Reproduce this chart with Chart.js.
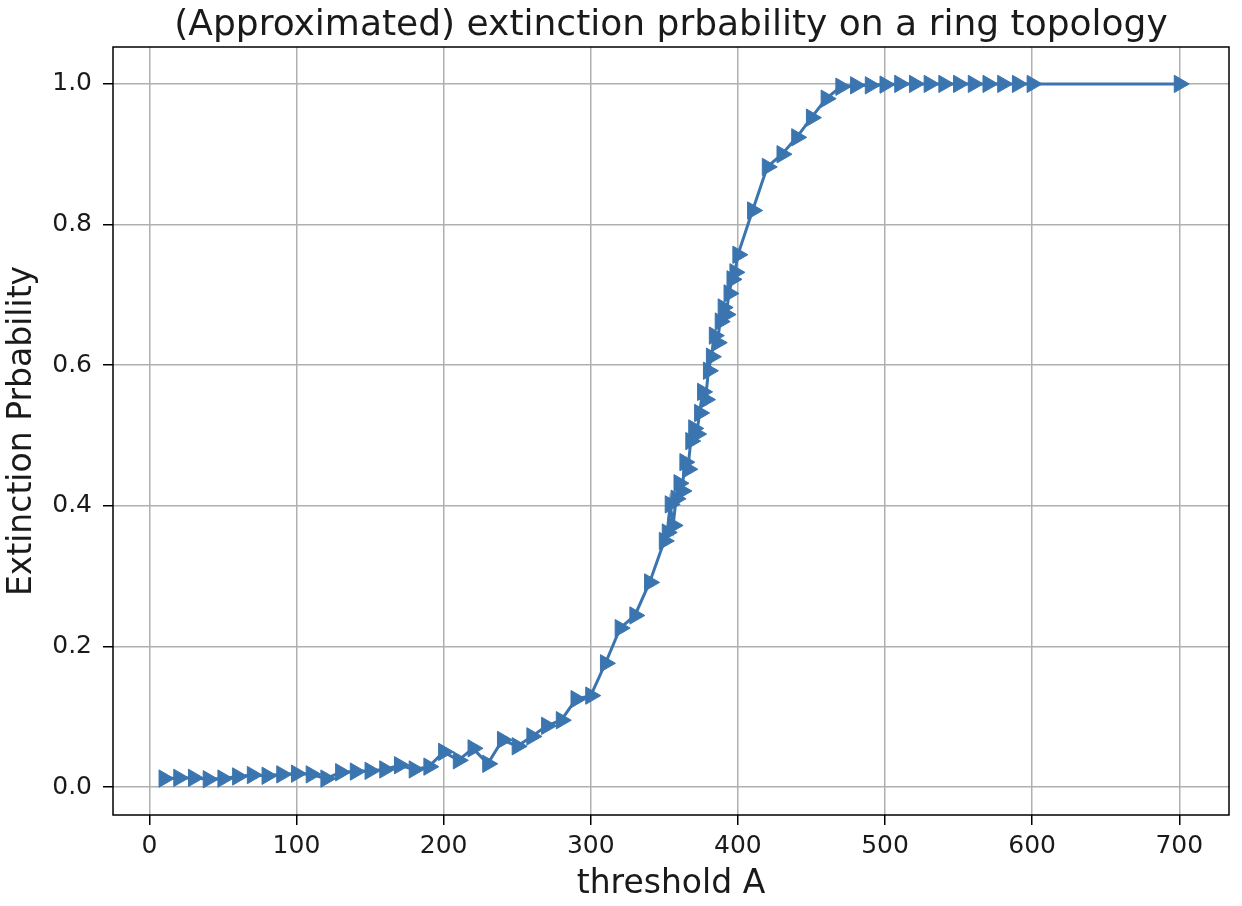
<!DOCTYPE html>
<html>
<head>
<meta charset="utf-8">
<script src="https://cdn.jsdelivr.net/npm/chart.js@4.4.1/dist/chart.umd.min.js"></script>
<style>
  html, body { margin: 0; padding: 0; background: #fff; }
  canvas { display: block; }
</style>
</head>
<body>
<canvas id="extinction-chart" width="1242" height="906"></canvas>
<script>
// threshold A values
const thresholds = [
  10, 20, 30, 40, 50, 60, 70, 80, 90, 100,
  110, 120, 130, 140, 150, 160, 170, 180, 190, 200,
  210, 220, 230, 240, 250, 260, 270, 280, 290, 300,
  310, 320, 330, 340,
  350, 352, 354, 356, 358, 360, 362, 364, 366, 368,
  370, 372, 374, 376, 378, 380, 382, 384, 386, 388,
  390, 392, 394, 396, 398, 400,
  410, 420, 430, 440, 450, 460, 470, 480, 490, 500,
  510, 520, 530, 540, 550, 560, 570, 580, 590, 600,
  700
];

// approximated extinction probability
const probabilities = [
  0.012, 0.013, 0.013, 0.011, 0.012, 0.015, 0.017, 0.016, 0.018, 0.019,
  0.018, 0.012, 0.021, 0.022, 0.023, 0.025, 0.031, 0.025, 0.029, 0.050,
  0.038, 0.055, 0.033, 0.067, 0.058, 0.072, 0.087, 0.095, 0.125, 0.130,
  0.176, 0.226, 0.244, 0.291,
  0.350, 0.362, 0.402, 0.372, 0.410, 0.432, 0.421, 0.462, 0.452, 0.492,
  0.510, 0.502, 0.532, 0.562, 0.551, 0.592, 0.612, 0.642, 0.632, 0.662,
  0.682, 0.672, 0.702, 0.722, 0.732, 0.757,
  0.820, 0.882, 0.900, 0.924, 0.952, 0.979, 0.996, 0.998, 0.998, 0.999,
  1.0, 1.0, 1.0, 1.0, 1.0, 1.0, 1.0, 1.0, 1.0, 1.0,
  1.0
];

const titleText = "(Approximated) extinction prbability on a ring topology";
const xLabel = "threshold A";
const yLabel = "Extinction Prbability";

const lineColor = "#3b75af";
const textColor = "#1a1a1a";
const fontFamily = "'DejaVu Sans', sans-serif";

const points = thresholds.map((x, i) => ({ x: x, y: probabilities[i] }));

// frame round the plot area plus a title centred over it
const framePlugin = {
  id: "frame",
  afterDraw(chart) {
    const ctx = chart.ctx;
    const a = chart.chartArea;
    ctx.save();
    ctx.strokeStyle = "#000";
    ctx.lineWidth = 1.5;
    ctx.strokeRect(a.left, a.top, a.right - a.left, a.bottom - a.top);
    ctx.fillStyle = textColor;
    ctx.font = "36px " + fontFamily;
    ctx.textAlign = "center";
    ctx.textBaseline = "alphabetic";
    ctx.fillText(titleText, (a.left + a.right) / 2, 35);
    ctx.restore();
  },
};

Chart.defaults.font.family = fontFamily;
Chart.defaults.color = textColor;

new Chart(document.getElementById("extinction-chart"), {
  type: "scatter",
  data: {
    datasets: [
      {
        label: "extinction",
        data: points,
        showLine: true,
        borderColor: lineColor,
        borderWidth: 3,
        backgroundColor: lineColor,
        pointStyle: "triangle",
        rotation: 90,
        pointRadius: 10,
        pointHoverRadius: 10,
        pointBorderWidth: 1,
        pointBorderColor: lineColor,
        pointBackgroundColor: lineColor,
      },
    ],
  },
  options: {
    responsive: false,
    animation: false,
    devicePixelRatio: 1,
    layout: {
      padding: { top: 47, right: 13, bottom: 0, left: 0 },
    },
    plugins: {
      legend: { display: false },
      tooltip: { enabled: false },
      title: { display: false },
    },
    scales: {
      x: {
        type: "linear",
        min: -24.7,
        max: 733.8,
        afterFit: function (scale) {
          scale.height = 91;
        },
        grid: {
          color: "#b0b0b0",
          lineWidth: 1.5,
          drawTicks: true,
          tickLength: 10,
          tickColor: "#000",
          tickWidth: 1.5,
        },
        border: { display: false },
        ticks: {
          stepSize: 100,
          includeBounds: false,
          padding: 6,
          maxRotation: 0,
          color: textColor,
          font: { size: 25 },
          callback: function (v) {
            return v.toString();
          },
        },
        title: {
          display: true,
          text: xLabel,
          color: textColor,
          font: { size: 33 },
          padding: { top: 0, bottom: 2 },
        },
      },
      y: {
        type: "linear",
        min: -0.0398,
        max: 1.0525,
        afterFit: function (scale) {
          scale.width = 113;
        },
        grid: {
          color: "#b0b0b0",
          lineWidth: 1.5,
          drawTicks: true,
          tickLength: 10,
          tickColor: "#000",
          tickWidth: 1.5,
        },
        border: { display: false },
        ticks: {
          stepSize: 0.2,
          includeBounds: false,
          padding: 11,
          color: textColor,
          font: { size: 25 },
          callback: function (v) {
            return v.toFixed(1);
          },
        },
        title: {
          display: true,
          text: yLabel,
          color: textColor,
          font: { size: 33 },
          padding: { top: 3, bottom: 0 },
        },
      },
    },
  },
  plugins: [framePlugin],
});
</script>
</body>
</html>
